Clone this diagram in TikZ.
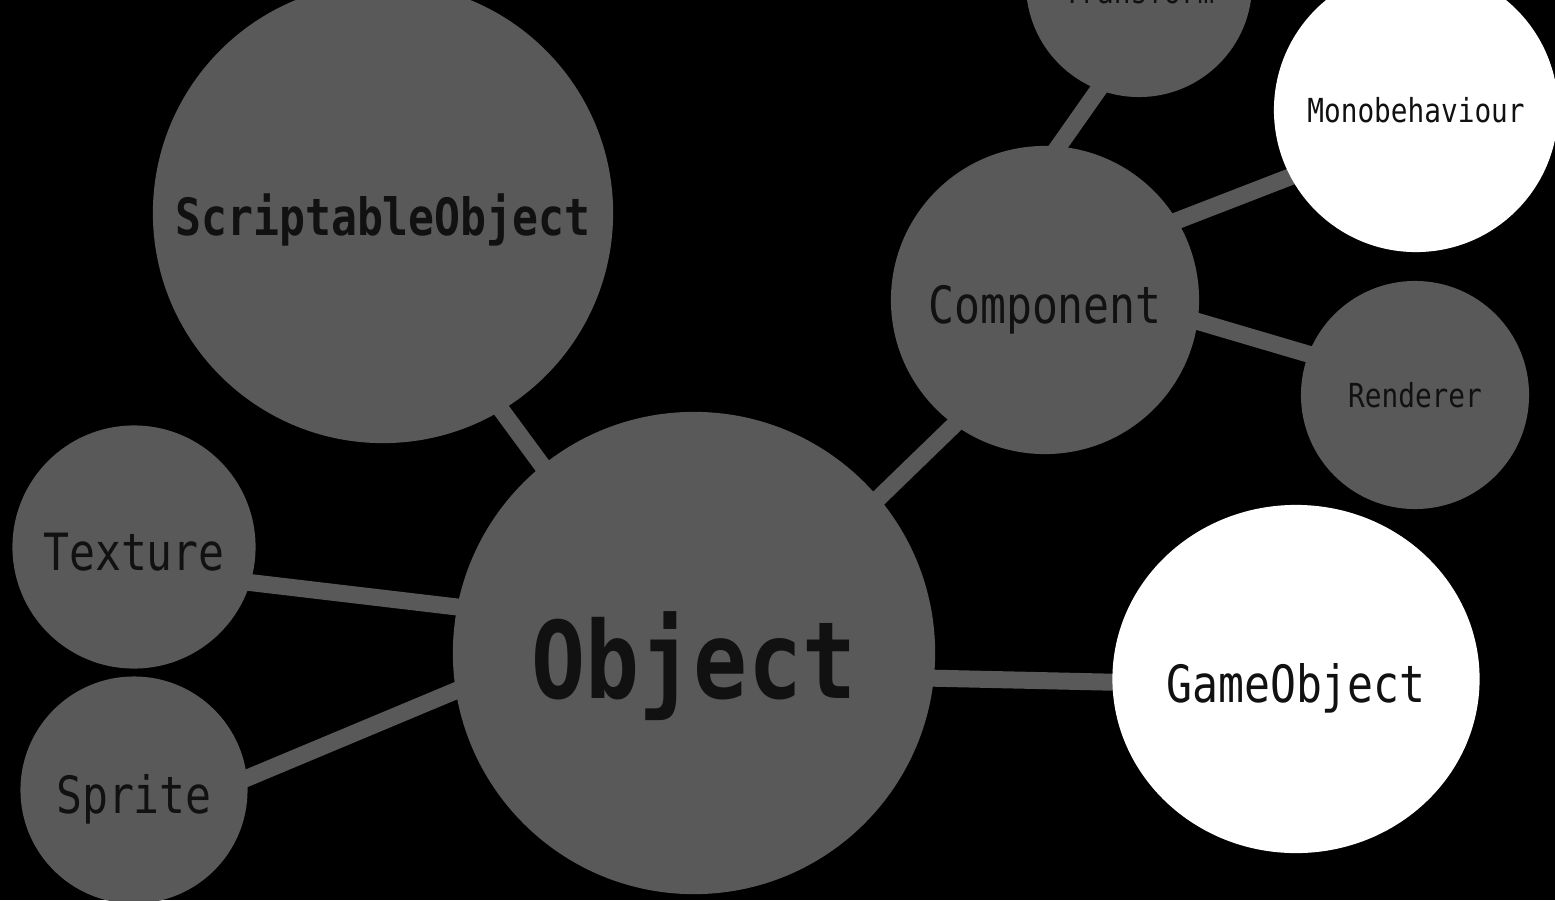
\documentclass[tikz,border=0pt]{standalone}
\usepackage{fontspec}
\usepackage{xcolor}
\usetikzlibrary{shapes.geometric}
\newfontfamily\bubblefont[FakeStretch=0.84]{DejaVu Sans Mono}
\definecolor{bubblegray}{HTML}{595959}
\definecolor{bubbletext}{HTML}{111111}
\pgfdeclarelayer{bg}
\pgfdeclarelayer{links}
\pgfsetlayers{bg,links,main}

\begin{document}
\begin{tikzpicture}[
  x=0.01cm, y=-0.01cm,
  every node/.style={
    circle,
    fill=bubblegray,
    inner sep=0pt,
    outer sep=0pt,
    text=bubbletext,
    text depth=0pt
  },
  bigfont/.style={font=\bubblefont\bfseries\fontsize{30.4}{32}\selectfont, text height=0.9cm},
  midfont/.style={font=\bubblefont\fontsize{14.6}{16}\selectfont, text height=0.47cm},
  midbold/.style={font=\bubblefont\bfseries\fontsize{14.6}{16}\selectfont, text height=0.45cm},
  smallfont/.style={font=\bubblefont\fontsize{9.4}{11}\selectfont, text height=0.24cm},
  whitecircle/.style={fill=white},
  link/.style={draw=bubblegray, line width=0.17cm, shorten <=-0.1cm, shorten >=-0.1cm}
]
\useasboundingbox (0,0) rectangle (1555,900);

\begin{pgfonlayer}{bg}
\fill[black] (0,0) rectangle (1555,900);
\end{pgfonlayer}

% Centre bubble and its left side
\node[bigfont, minimum size=4.82cm] (obj) at (694,653) {Object};
\node[midbold, minimum size=4.6cm] (so) at (383,213) {ScriptableObject};
\node[midfont, minimum size=2.43cm] (tex) at (134,547) {Texture};
\node[midfont, minimum size=2.27cm] (spr) at (134,790) {Sprite};

% Right side
\node[midfont, minimum size=3.08cm] (comp) at (1045,300) {Component};
\node[smallfont, minimum size=2.26cm, text height=0.38cm] (tr) at (1139,-16) {Transform};
\node[smallfont, whitecircle, minimum size=2.84cm] (mono) at (1416,110) {Monobehaviour};
\node[smallfont, minimum size=2.28cm] (ren) at (1415,395) {Renderer};
\node[midfont, whitecircle, ellipse, minimum width=3.66cm, minimum height=3.48cm] (go) at (1296,679) {GameObject};

% Links (behind the bubbles)
\begin{pgfonlayer}{links}
\draw[link] (obj.129) -- (so.-59);
\draw[link] (obj.169) -- (tex.-17);
\draw[link] (obj.-171) -- (spr.6);
\draw[link] (obj.40) -- (comp.-126);
\draw[link] (obj.-6.5) -- (go.181);

\draw[link] (comp.85) -- (tr.-111);
\draw[link] (comp.31) -- (mono.-152);
\draw[link] (comp.-8) -- (ren.159);
\end{pgfonlayer}

\end{tikzpicture}
\end{document}
